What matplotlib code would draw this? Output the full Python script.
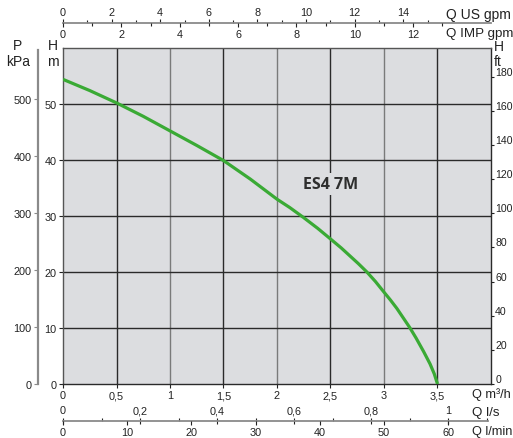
import matplotlib
matplotlib.use('Agg')
import matplotlib.pyplot as plt
from matplotlib.ticker import FixedLocator, NullLocator

plt.rcParams['font.family'] = ['Liberation Sans', 'DejaVu Sans']

# ---- data ----
q_m3h = [0, 0.25, 0.5, 0.75, 1.0, 1.25, 1.5, 1.75, 2.0, 2.12, 2.25, 2.38, 2.5,
         2.6, 2.68, 2.76, 2.84, 2.92, 3.0, 3.06, 3.12, 3.18, 3.24, 3.3, 3.37,
         3.43, 3.47, 3.5]
h_m = [54.4, 52.4, 50.2, 47.8, 45.2, 42.6, 39.9, 36.6, 33.0, 31.5, 29.7, 27.8,
       25.9, 24.3, 22.9, 21.5, 20.0, 18.3, 16.4, 15.0, 13.5, 11.8, 10.1, 8.2,
       5.8, 3.6, 1.8, 0.0]
curve_label = "ES4 7M"

x_ticks = [0, 0.5, 1, 1.5, 2, 2.5, 3, 3.5]
x_labels = ["0", "0,5", "1", "1,5", "2", "2,5", "3", "3,5"]
h_ticks = [0, 10, 20, 30, 40, 50]
p_ticks = [0, 100, 200, 300, 400, 500]
ft_ticks = [0, 20, 40, 60, 80, 100, 120, 140, 160, 180]
us_ticks = [0, 2, 4, 6, 8, 10, 12, 14]
imp_ticks = [0, 2, 4, 6, 8, 10, 12]
ls_ticks = [0, 0.2, 0.4, 0.6, 0.8, 1.0]
ls_labels = ["0", "0,2", "0,4", "0,6", "0,8", "1"]
lmin_ticks = [0, 10, 20, 30, 40, 50, 60]

# unit conversions
M3H_TO_USGPM = 4.4029
M3H_TO_IMPGPM = 3.6662
M3H_TO_LS = 1 / 3.6
M3H_TO_LMIN = 1000 / 60
M_TO_KPA = 9.81
M_TO_FT = 1 / 0.3048

XMAX = 4.0
YMAX = 60.0

W, H = 513, 439
fig = plt.figure(figsize=(W / 100, H / 100), dpi=100)

L = 63 / W
Wd = (491 - 63) / W
B = (H - 385) / H
Ht = (385 - 49) / H

bg = '#dcdde0'
dark = '#2a2a2a'
mid = '#7a7a7a'
axis_gray = '#8a8a8a'
txt = '#222222'
fs = 7.8

ax = fig.add_axes([L, B, Wd, Ht])
ax.set_facecolor(bg)
ax.set_xlim(0, XMAX)
ax.set_ylim(0, YMAX)

# grid
for i in range(1, 8):
    xv = i * 0.5
    ax.axvline(xv, color=(mid if i % 2 == 0 else dark), lw=1.0, zorder=1)
for yv in [10, 20, 30, 40, 50]:
    ax.axhline(yv, color=dark, lw=1.0, zorder=1)

ax.plot(q_m3h, h_m, color='#3aaa35', lw=2.3, solid_capstyle='butt',
        solid_joinstyle='round', zorder=3)

ax.text(2.5, 35.7, curve_label, fontsize=11.5, fontweight='bold', color='#2e2e2e',
        family=['Open Sans', 'DejaVu Sans'], ha='center', va='center', zorder=4,
        bbox=dict(facecolor=bg, edgecolor='none', pad=2))

for s in ['left', 'bottom', 'right', 'top']:
    ax.spines[s].set_color(dark)
    ax.spines[s].set_linewidth(1.0)
ax.spines['left'].set_color('#555555')
ax.spines['top'].set_color('#555555')

ax.xaxis.set_major_locator(FixedLocator(x_ticks))
ax.set_xticklabels(x_labels)
ax.yaxis.set_major_locator(FixedLocator(h_ticks))
ax.tick_params(axis='both', direction='out', length=3, width=0.8, labelsize=fs,
               colors=txt, pad=1.5)

# right ft axis
ax_ft = ax.twinx()
ax_ft.set_ylim(0, YMAX * M_TO_FT)
ax_ft.yaxis.set_major_locator(FixedLocator(ft_ticks))
ax_ft.tick_params(axis='y', direction='out', length=2.5, width=0.8, labelsize=7.6,
                  colors=txt, pad=0.5)
for lbl in ax_ft.get_yticklabels():
    lbl.set_verticalalignment('bottom')
for s in ['left', 'bottom', 'right', 'top']:
    ax_ft.spines[s].set_visible(False)

# left P kPa axis
px = 38 / W
ax_p = fig.add_axes([px, B, 1e-5, (385 - 51) / H])
ax_p.set_ylim(0, YMAX * M_TO_KPA * (385 - 51) / (385 - 49))
ax_p.patch.set_visible(False)
for s in ['bottom', 'right', 'top']:
    ax_p.spines[s].set_visible(False)
ax_p.spines['left'].set_color(axis_gray)
ax_p.spines['left'].set_linewidth(1.6)
ax_p.xaxis.set_major_locator(NullLocator())
ax_p.yaxis.set_major_locator(FixedLocator(p_ticks))
ax_p.tick_params(axis='y', direction='out', length=3, width=0.8, labelsize=fs,
                 colors=axis_gray, labelcolor=txt, pad=1.5)

# top axis (US gpm above, IMP gpm below)
ty = (H - 24) / H
ax_us = fig.add_axes([L, ty, Wd, 1e-5])
ax_us.patch.set_visible(False)
ax_us.set_xlim(0, XMAX * M3H_TO_USGPM)
for s in ['bottom', 'left', 'right']:
    ax_us.spines[s].set_visible(False)
ax_us.spines['top'].set_color(axis_gray)
ax_us.spines['top'].set_linewidth(1.3)
ax_us.yaxis.set_major_locator(NullLocator())
ax_us.xaxis.set_ticks_position('top')
ax_us.xaxis.set_major_locator(FixedLocator(us_ticks))
ax_us.xaxis.set_minor_locator(FixedLocator([v + 1 for v in us_ticks]))
ax_us.tick_params(axis='x', which='major', direction='out', length=3, width=0.8,
                  labelsize=fs, colors=txt, pad=1.5)
ax_us.tick_params(axis='x', which='minor', direction='out', length=2.5, width=0.8,
                  colors=txt)

ax_imp = fig.add_axes([L, ty, Wd, 1e-5])
ax_imp.patch.set_visible(False)
ax_imp.set_xlim(0, XMAX * M3H_TO_IMPGPM)
for s in ['bottom', 'left', 'right', 'top']:
    ax_imp.spines[s].set_visible(False)
ax_imp.yaxis.set_major_locator(NullLocator())
ax_imp.xaxis.set_ticks_position('bottom')
ax_imp.xaxis.set_major_locator(FixedLocator(imp_ticks))
ax_imp.xaxis.set_minor_locator(FixedLocator([v + 1 for v in imp_ticks]))
ax_imp.tick_params(axis='x', which='major', direction='out', length=3, width=0.8,
                   labelsize=fs, colors=txt, pad=1.5)
ax_imp.tick_params(axis='x', which='minor', direction='out', length=2.5, width=0.8,
                   colors=txt)

# bottom axis (l/s above, l/min below)
by = (H - 422) / H
ax_ls = fig.add_axes([L, by, (488 - 63) / W, 1e-5])
ax_ls.patch.set_visible(False)
ax_ls.set_xlim(0, XMAX * M3H_TO_LS * (488 - 63) / (491 - 63))
for s in ['bottom', 'left', 'right']:
    ax_ls.spines[s].set_visible(False)
ax_ls.spines['top'].set_color(axis_gray)
ax_ls.spines['top'].set_linewidth(1.3)
ax_ls.yaxis.set_major_locator(NullLocator())
ax_ls.xaxis.set_ticks_position('top')
ax_ls.xaxis.set_major_locator(FixedLocator(ls_ticks))
ax_ls.set_xticklabels(ls_labels)
ax_ls.xaxis.set_minor_locator(FixedLocator([v + 0.1 for v in ls_ticks]))
ax_ls.tick_params(axis='x', which='major', direction='inout', length=5, width=0.8,
                  labelsize=fs, colors=txt, pad=1.5)
ax_ls.tick_params(axis='x', which='minor', direction='out', length=2.5, width=0.8,
                  colors=txt)

ax_lm = fig.add_axes([L, by, (488 - 63) / W, 1e-5])
ax_lm.patch.set_visible(False)
ax_lm.set_xlim(0, XMAX * M3H_TO_LMIN * (488 - 63) / (491 - 63))
for s in ['bottom', 'left', 'right', 'top']:
    ax_lm.spines[s].set_visible(False)
ax_lm.yaxis.set_major_locator(NullLocator())
ax_lm.xaxis.set_ticks_position('bottom')
ax_lm.xaxis.set_major_locator(FixedLocator(lmin_ticks))
ax_lm.tick_params(axis='x', which='major', direction='out', length=3, width=0.8,
                  labelsize=fs, colors=txt, pad=1.5)

# axis titles
lab = 10
def ftext(x, y, s, ha='left', size=lab):
    fig.text(x / W, 1 - y / H, s, ha=ha, va='center', fontsize=size, color=txt)

ftext(446, 15, "Q US gpm")
ftext(446, 34, "Q IMP gpm", size=9.6)
ftext(472, 395, "Q m³/h", size=9.2)
ftext(472, 413, "Q l/s", size=9.6)
ftext(472, 432, "Q l/min", size=9.2)
ftext(18, 46, "P", ha='center')
ftext(18, 62, "kPa", ha='center')
ftext(53, 46, "H", ha='center')
ftext(53, 62, "m", ha='center')
ftext(494, 47, "H")
ftext(494, 62, "ft")

fig.savefig('out.png', dpi=100)
